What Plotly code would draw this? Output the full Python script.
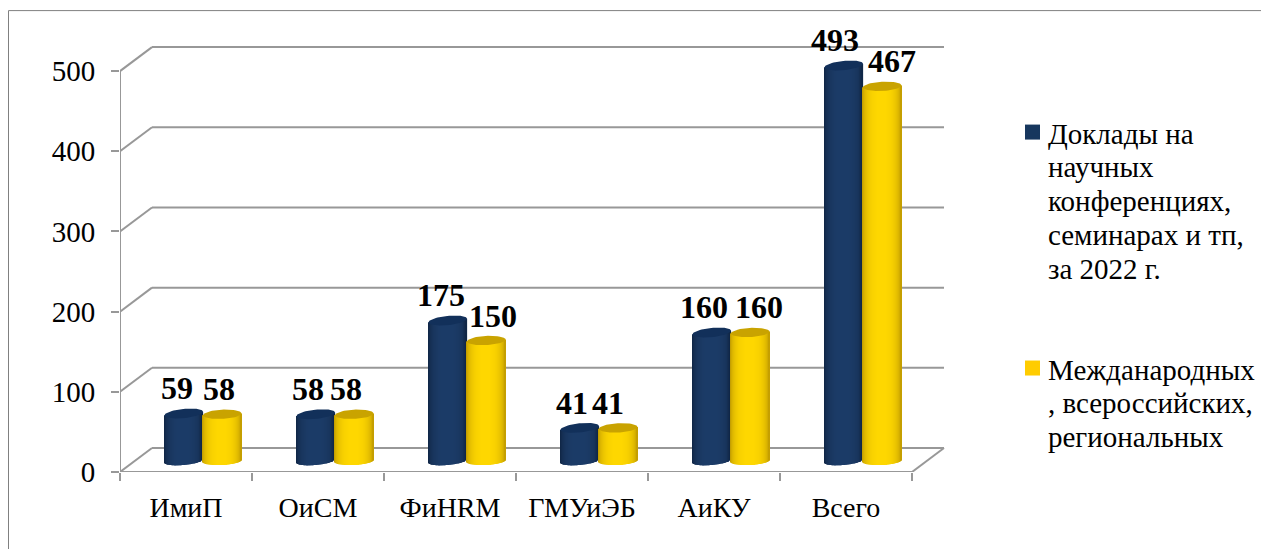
import numpy as np
import plotly.graph_objects as go

categories = ["ИмиП", "ОиСМ", "ФиНRМ", "ГМУиЭБ", "АиКУ", "Всего"]
reports = [59, 58, 175, 41, 160, 493]
international = [58, 58, 150, 41, 160, 467]
y_ticks = [0, 100, 200, 300, 400, 500]
legend_reports = ["Доклады на", "научных", "конференциях,", "семинарах и тп,", "за 2022 г."]
legend_international = ["Межданародных", ", всероссийских,", "региональных"]

PAGE = 8          # the page body margin in front of the figure
W, H = 1269, 549
X0 = 120 - PAGE   # figure pixel of the front-left corner
CELL = 132        # pixels per category
Y0 = 472.5 - PAGE # figure pixel of value 0 on the front plane
UNIT = 0.802      # pixels per value unit
Y_TOP = 550
GREY = "#989898"
FONT = "Liberation Serif"
R_MARGIN = 299

px_x = 1 / CELL
px_y = 1 / UNIT
DX, DY = 32 * px_x, 24 * px_y      # depth of the chart box
BASE = 14                          # bars stand this far into the floor
BAR_W = 38.5 * px_x
GROUP_SHIFT = 17 * px_x
RIGHT = len(categories) - 0.5
LEFT = -0.5

series = [
    dict(vals=reports, side=-1, cap="#12305a", edge=(13, 32, 60), mid=(28, 60, 104),
         tilt=1.8, nudges=[-7, -8, -7, -8, -8, -9]),
    dict(vals=international, side=1, cap="#c9a300", edge=(178, 140, 0), mid=(255, 216, 0),
         tilt=0.9, nudges=[-3, -8, 7, -10, 9, 10]),
]

fig = go.Figure()
annotations, shapes = [], []

# back wall grid lines
for v in y_ticks:
    shapes.append(dict(type="line", layer="below", xref="x", yref="y",
                       x0=LEFT + DX, x1=RIGHT + DX, y0=v + DY, y1=v + DY,
                       line=dict(color=GREY, width=2)))
    fig.add_trace(go.Scatter(x=[LEFT, LEFT + DX], y=[v, v + DY], mode="lines", cliponaxis=False,
                             line=dict(color=GREY, width=2), showlegend=False, hoverinfo="skip"))

# front frame lines
frame = [([LEFT, LEFT], [0, y_ticks[-1]]),
         ([LEFT, RIGHT], [0, 0]),
         ([RIGHT, RIGHT + DX], [0, DY])]
for fx, fy in frame:
    fig.add_trace(go.Scatter(x=fx, y=fy, mode="lines", cliponaxis=False,
                             line=dict(color=GREY, width=2), showlegend=False, hoverinfo="skip"))

# cylinders: vertical one-pixel strips shaded across the bar
STRIPS = 40
xpos = np.arange(len(categories), dtype=float)
for s in series:
    vals = np.array(s["vals"], dtype=float)
    centres = xpos + GROUP_SHIFT + s["side"] * BAR_W / 2
    ts = (np.arange(STRIPS) + 0.5) / STRIPS * 2 - 1
    for t in ts:
        shade = np.sqrt(max(0, 1 - abs(t) ** 2.6))
        col = [int(e + (m - e) * shade) for e, m in zip(s["edge"], s["mid"])]
        tilt = s["tilt"] * px_y * t
        sink = 4.2 * px_y * np.sqrt(1 - t * t) - tilt
        fig.add_trace(go.Bar(
            x=centres + t * BAR_W / 2, y=vals + sink + tilt, base=BASE - sink,
            width=BAR_W / STRIPS * 1.25,
            marker=dict(color=f"rgb({col[0]},{col[1]},{col[2]})", line=dict(width=0)),
            showlegend=False, hoverinfo="skip"))
    # top caps
    a = np.linspace(0, 2 * np.pi, 60)
    for c, v in zip(centres, vals):
        cx = c + np.cos(a) * BAR_W / 2
        cy = BASE + v + 4.6 * px_y * np.sin(a) + s["tilt"] * px_y * np.cos(a)
        fig.add_trace(go.Scatter(x=cx, y=cy, mode="lines", fill="toself", fillcolor=s["cap"],
                                 line=dict(width=0), showlegend=False, hoverinfo="skip"))
    # data labels
    for c, v, n in zip(centres, s["vals"], s["nudges"]):
        annotations.append(dict(x=c, y=BASE + v, xref="x", yref="y", text=f"<b>{v}</b>",
                                showarrow=False, xshift=n, yshift=25, yanchor="middle",
                                font=dict(family=FONT, size=32, color="black")))

plot_w = W - X0 - R_MARGIN
plot_h = Y_TOP * UNIT
def paper_x(p): return (p - PAGE - X0) / plot_w      # p is a page pixel
def paper_y(p): return (Y0 - (p - PAGE)) / plot_h

# outer border
shapes.append(dict(type="line", xref="paper", yref="paper", x0=paper_x(8.5), x1=paper_x(W + 10),
                   y0=paper_y(11), y1=paper_y(11), line=dict(color="#808080", width=1)))
shapes.append(dict(type="line", xref="paper", yref="paper", x0=paper_x(8.5), x1=paper_x(8.5),
                   y0=paper_y(H + 10), y1=paper_y(11), line=dict(color="#808080", width=1)))

# legend, drawn by hand so the swatch sits on the first line
LINE = 33.8
for lines, col, top, first in [(legend_reports, "#17375e", 125, 134),
                               (legend_international, "#ffcc00", 361, 370)]:
    shapes.append(dict(type="rect", xref="paper", yref="paper", x0=paper_x(1025), x1=paper_x(1040),
                       y0=paper_y(top + 15), y1=paper_y(top), fillcolor=col, line=dict(width=0)))
    for i, text in enumerate(lines):
        annotations.append(dict(x=paper_x(1046), y=paper_y(first + i * LINE), xref="paper", yref="paper",
                                text=text, showarrow=False, xanchor="left", yanchor="middle", align="left",
                                font=dict(family=FONT, size=29, color="black")))

fig.update_layout(
    width=W, height=H, autosize=False, barmode="overlay", showlegend=False,
    paper_bgcolor="white", plot_bgcolor="white",
    margin=dict(l=X0, r=R_MARGIN, t=Y0 - plot_h, b=H - Y0, pad=0, autoexpand=False),
    shapes=shapes, annotations=annotations,
    xaxis=dict(range=[LEFT, LEFT + plot_w / CELL], tickmode="array", tickvals=list(range(len(categories))),
               ticktext=categories, ticks="outside", ticklen=10, tickcolor="rgba(0,0,0,0)",
               showgrid=False, zeroline=False, showline=False,
               tickfont=dict(family=FONT, size=28, color="black"),
               minor=dict(tickmode="array", tickvals=[i - 0.5 for i in range(len(categories) + 1)],
                          ticks="outside", ticklen=8, tickwidth=2, tickcolor=GREY, showgrid=False)),
    yaxis=dict(range=[0, Y_TOP], tickmode="array", tickvals=y_ticks, ticks="outside", ticklen=8, tickwidth=2,
               tickcolor=GREY, showgrid=False, zeroline=False, showline=False, ticklabelstandoff=10,
               tickfont=dict(family=FONT, size=29, color="black")),
)
fig.write_html("out.html", config=dict(displayModeBar=False))
